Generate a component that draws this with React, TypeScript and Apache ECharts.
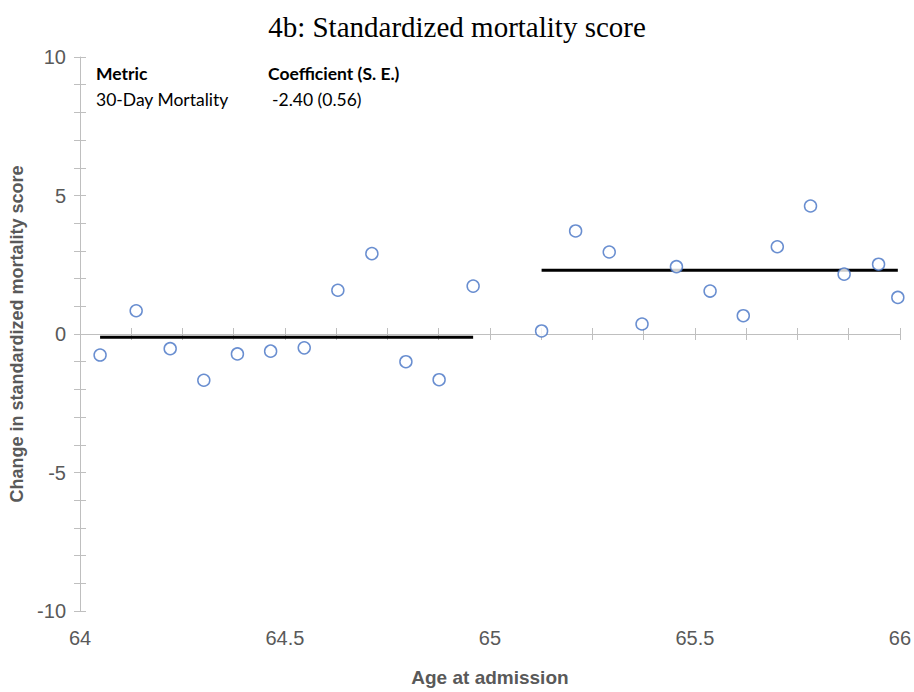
import React, { useEffect, useRef } from "react";
import * as echarts from "echarts";

// Monthly age bins (years) and the change in standardized mortality score
const ageBefore = [64.049, 64.137, 64.22, 64.302, 64.384, 64.465, 64.547, 64.629, 64.712, 64.795, 64.876, 64.959];
const scoreBefore = [-0.76, 0.84, -0.53, -1.67, -0.72, -0.62, -0.5, 1.58, 2.9, -1.0, -1.65, 1.73];
const ageAfter = [65.126, 65.209, 65.291, 65.371, 65.455, 65.537, 65.618, 65.701, 65.782, 65.864, 65.948, 65.995];
const scoreAfter = [0.11, 3.72, 2.96, 0.36, 2.43, 1.55, 0.66, 3.15, 4.62, 2.16, 2.52, 1.32];

// Fitted level on each side of the age-65 threshold
const fittedBefore = -0.12;
const fittedAfter = 2.3;

// Summary table printed in the plot corner
const tableHeader = ["Metric", "Coefficient (S. E.)"];
const tableRow = ["30-Day Mortality", "-2.40 (0.56)"];

const xTicks = { min: 64, max: 66, label: 0.5, minor: 0.125 };
const yTicks = { min: -10, max: 10, label: 5, minor: 1 };

const AXIS_GRAY = "#bfbfbf";
const TEXT_GRAY = "#595959";
const SANS = "Liberation Sans, Arial, sans-serif";
const SERIF = "Liberation Serif, Times New Roman, serif";
const TABLE_FONT = "Lato, Open Sans, sans-serif";

export default function App() {
  const ref = useRef<HTMLDivElement>(null);

  useEffect(() => {
    document.body.style.margin = "0";
    if (!ref.current) return;
    const chart = echarts.init(ref.current, null, { renderer: "svg" });

    const tickAxisX = (position: "top" | "bottom", showLine: boolean) => ({
      type: "value",
      min: xTicks.min,
      max: xTicks.max,
      interval: xTicks.minor,
      position,
      axisLine: {
        show: showLine,
        onZero: true,
        onZeroAxisIndex: 0,
        lineStyle: { color: AXIS_GRAY, width: 1 },
      },
      axisTick: { show: true, length: 6, lineStyle: { color: AXIS_GRAY, width: 1 } },
      axisLabel: { show: false },
      splitLine: { show: false },
    });

    const tickAxisY = (inside: boolean) => ({
      type: "value",
      min: yTicks.min,
      max: yTicks.max,
      interval: yTicks.minor,
      position: "left",
      axisLine: { show: false, onZero: false },
      axisTick: { show: true, inside, length: 6, lineStyle: { color: AXIS_GRAY, width: 1 } },
      axisLabel: { show: false },
      splitLine: { show: false },
    });

    const pointStyle = {
      color: "#ffffff",
      borderColor: "#4472C4",
      borderWidth: 1.5,
    };

    const lineSeries = (ages: number[], level: number) => ({
      type: "line",
      xAxisIndex: 0,
      yAxisIndex: 0,
      data: [
        [ages[0], level],
        [ages[ages.length - 1], level],
      ],
      symbol: "none",
      lineStyle: { color: "#000000", width: 3 },
      z: 1,
    });

    chart.setOption({
      animation: false,
      backgroundColor: "#ffffff",
      title: {
        text: "4b: Standardized mortality score",
        left: "center",
        top: 7,
        textStyle: {
          fontFamily: SERIF,
          fontSize: 29,
          fontWeight: "normal",
          color: "#000000",
        },
      },
      grid: { left: 80, right: 14, top: 57, bottom: 77, containLabel: false },
      xAxis: [
        {
          type: "value",
          min: xTicks.min,
          max: xTicks.max,
          interval: xTicks.label,
          position: "bottom",
          axisLine: { show: false, onZero: false },
          axisTick: { show: false },
          splitLine: { show: false },
          axisLabel: { fontSize: 20, color: TEXT_GRAY, fontFamily: SANS, margin: 17 },
          name: "Age at admission",
          nameLocation: "middle",
          nameGap: 57,
          nameTextStyle: { fontSize: 19, fontWeight: "bold", color: TEXT_GRAY, fontFamily: SANS },
        },
        tickAxisX("bottom", true),
        tickAxisX("top", false),
      ],
      yAxis: [
        {
          type: "value",
          min: yTicks.min,
          max: yTicks.max,
          interval: yTicks.label,
          position: "left",
          axisLine: { show: true, onZero: false, lineStyle: { color: AXIS_GRAY, width: 1 } },
          axisTick: { show: false },
          splitLine: { show: false },
          axisLabel: { fontSize: 20, color: TEXT_GRAY, fontFamily: SANS, margin: 14 },
          name: "Change in standardized mortality score",
          nameLocation: "middle",
          nameGap: 46,
          nameTextStyle: { fontSize: 18, fontWeight: "bold", color: TEXT_GRAY, fontFamily: SANS },
        },
        tickAxisY(false),
        tickAxisY(true),
      ],
      graphic: [
        {
          type: "text",
          left: 96,
          top: 64,
          style: { text: tableHeader[0], font: `bold 17.5px ${TABLE_FONT}`, fill: "#000000" },
        },
        {
          type: "text",
          left: 268,
          top: 64,
          style: { text: tableHeader[1], font: `bold 17.5px ${TABLE_FONT}`, fill: "#000000" },
        },
        {
          type: "text",
          left: 96,
          top: 90,
          style: { text: tableRow[0], font: `17.5px ${TABLE_FONT}`, fill: "#000000" },
        },
        {
          type: "text",
          left: 272,
          top: 90,
          style: { text: tableRow[1], font: `17.5px ${TABLE_FONT}`, fill: "#000000" },
        },
      ],
      series: [
        lineSeries(ageBefore, fittedBefore),
        lineSeries(ageAfter, fittedAfter),
        {
          type: "scatter",
          xAxisIndex: 0,
          yAxisIndex: 0,
          symbol: "circle",
          symbolSize: 12,
          itemStyle: pointStyle,
          data: ageBefore.map((a, i) => [a, scoreBefore[i]]),
          z: 3,
        },
        {
          type: "scatter",
          xAxisIndex: 0,
          yAxisIndex: 0,
          symbol: "circle",
          symbolSize: 12,
          itemStyle: pointStyle,
          data: ageAfter.map((a, i) => [a, scoreAfter[i]]),
          z: 3,
        },
      ],
    });

    return () => chart.dispose();
  }, []);

  return (
    <div
      ref={ref}
      style={{ position: "absolute", left: 0, top: 0, width: 914, height: 692 }}
    />
  );
}
